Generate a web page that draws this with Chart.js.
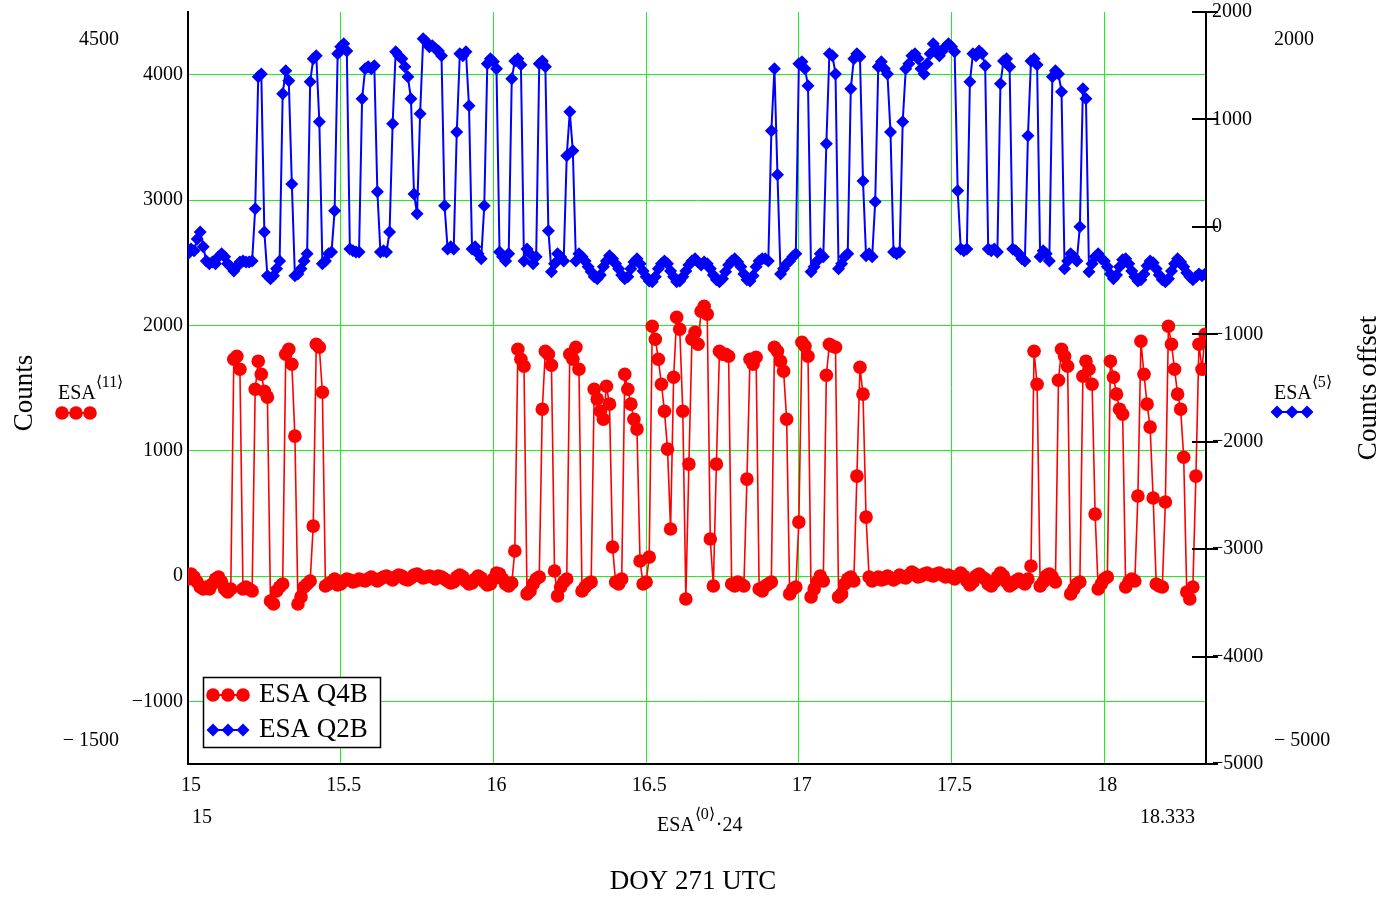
<!DOCTYPE html>
<html>
<head>
<meta charset="utf-8">
<title>ESA Q4B / Q2B - DOY 271</title>
<script src="https://cdn.jsdelivr.net/npm/chart.js@4.4.0/dist/chart.umd.min.js"></script>
<style>
  html, body { margin: 0; padding: 0; background: #fff; }
  canvas { display: block; }
</style>
</head>
<body>
<canvas id="esaChart" width="1387" height="898"></canvas>
<script>
// sample times, hours UTC (ESA<0> * 24)
const hours = [
  15.00, 15.01, 15.02, 15.03, 15.04, 15.05, 15.06, 15.07, 15.08, 15.09,
  15.10, 15.11, 15.12, 15.13, 15.14, 15.15, 15.16, 15.17, 15.18, 15.19,
  15.20, 15.21, 15.22, 15.23, 15.24, 15.25, 15.26, 15.27, 15.28, 15.29,
  15.30, 15.31, 15.32, 15.33, 15.34, 15.35, 15.36, 15.37, 15.38, 15.39,
  15.40, 15.41, 15.42, 15.43, 15.44, 15.45, 15.46, 15.47, 15.48, 15.49,
  15.50, 15.51, 15.52, 15.53, 15.54, 15.55, 15.56, 15.57, 15.58, 15.59,
  15.60, 15.61, 15.62, 15.63, 15.64, 15.65, 15.66, 15.67, 15.68, 15.69,
  15.70, 15.71, 15.72, 15.73, 15.74, 15.75, 15.76, 15.77, 15.78, 15.79,
  15.80, 15.81, 15.82, 15.83, 15.84, 15.85, 15.86, 15.87, 15.88, 15.89,
  15.90, 15.91, 15.92, 15.93, 15.94, 15.95, 15.96, 15.97, 15.98, 15.99,
  16.00, 16.01, 16.02, 16.03, 16.04, 16.05, 16.06, 16.07, 16.08, 16.09,
  16.10, 16.11, 16.12, 16.13, 16.14, 16.15, 16.16, 16.17, 16.18, 16.19,
  16.20, 16.21, 16.22, 16.23, 16.24, 16.25, 16.26, 16.27, 16.28, 16.29,
  16.30, 16.31, 16.32, 16.33, 16.34, 16.35, 16.36, 16.37, 16.38, 16.39,
  16.40, 16.41, 16.42, 16.43, 16.44, 16.45, 16.46, 16.47, 16.48, 16.49,
  16.50, 16.51, 16.52, 16.53, 16.54, 16.55, 16.56, 16.57, 16.58, 16.59,
  16.60, 16.61, 16.62, 16.63, 16.64, 16.65, 16.66, 16.67, 16.68, 16.69,
  16.70, 16.71, 16.72, 16.73, 16.74, 16.75, 16.76, 16.77, 16.78, 16.79,
  16.80, 16.81, 16.82, 16.83, 16.84, 16.85, 16.86, 16.87, 16.88, 16.89,
  16.90, 16.91, 16.92, 16.93, 16.94, 16.95, 16.96, 16.97, 16.98, 16.99,
  17.00, 17.01, 17.02, 17.03, 17.04, 17.05, 17.06, 17.07, 17.08, 17.09,
  17.10, 17.11, 17.12, 17.13, 17.14, 17.15, 17.16, 17.17, 17.18, 17.19,
  17.20, 17.21, 17.22, 17.23, 17.24, 17.25, 17.26, 17.27, 17.28, 17.29,
  17.30, 17.31, 17.32, 17.33, 17.34, 17.35, 17.36, 17.37, 17.38, 17.39,
  17.40, 17.41, 17.42, 17.43, 17.44, 17.45, 17.46, 17.47, 17.48, 17.49,
  17.50, 17.51, 17.52, 17.53, 17.54, 17.55, 17.56, 17.57, 17.58, 17.59,
  17.60, 17.61, 17.62, 17.63, 17.64, 17.65, 17.66, 17.67, 17.68, 17.69,
  17.70, 17.71, 17.72, 17.73, 17.74, 17.75, 17.76, 17.77, 17.78, 17.79,
  17.80, 17.81, 17.82, 17.83, 17.84, 17.85, 17.86, 17.87, 17.88, 17.89,
  17.90, 17.91, 17.92, 17.93, 17.94, 17.95, 17.96, 17.97, 17.98, 17.99,
  18.00, 18.01, 18.02, 18.03, 18.04, 18.05, 18.06, 18.07, 18.08, 18.09,
  18.10, 18.11, 18.12, 18.13, 18.14, 18.15, 18.16, 18.17, 18.18, 18.19,
  18.20, 18.21, 18.22, 18.23, 18.24, 18.25, 18.26, 18.27, 18.28, 18.29,
  18.30, 18.31, 18.32, 18.33
];

// ESA column 11 (Q4B), counts - left axis
const q4bCounts = [
  -24, 16, -8, -48, -88, -104, -88, -104, -64, -24,
  -8, -48, -104, -128, -104, 1729, 1753, 1650, -104, -88,
  -104, -120, 1490, 1714, 1610, 1474, 1427, -199, -223, -120,
  -88, -64, 1769, 1809, 1690, 1116, -223, -167, -88, -64,
  -40, 398, 1849, 1825, 1466, -80, -64, -48, -24, -72,
  -64, -40, -24, -32, -48, -40, -24, -32, -40, -24,
  -8, -24, -40, -24, -8, 0, -16, -32, -8, 8,
  0, -24, -32, -16, 8, 16, 0, -16, -8, 0,
  -8, -24, 0, -8, -24, -40, -56, -48, -8, 8,
  -8, -40, -64, -56, -24, 0, -16, -48, -72, -64,
  -24, 24, 16, -24, -64, -80, -56, 199, 1809, 1729,
  1674, -143, -120, -64, -24, -8, 1331, 1793, 1769, 1682,
  40, -159, -88, -48, -24, 1769, 1729, 1825, 1650, -120,
  -88, -64, -48, 1490, 1411, 1315, 1251, 1514, 1371, 231,
  -48, -64, -24, 1610, 1490, 1371, 1251, 1172, 120, -64,
  -48, 151, 1993, 1889, 1729, 1530, 1315, 1012, 375, 1586,
  2064, 1969, 1315, -183, 893, 1889, 1945, 1849, 2112, 2152,
  2088, 295, -80, 893, 1793, 1769, 1769, 1753, -64, -80,
  -48, -64, -80, 773, 1729, 1690, 1745, -104, -120, -80,
  -64, -48, 1825, 1793, 1714, 1634, 1251, -143, -104, -88,
  430, 1865, 1833, 1753, -167, -104, -48, 0, -40, 1602,
  1849, 1833, 1825, -167, -143, -64, -24, -8, -40, 797,
  1666, 1451, 470, -8, -40, -24, -8, -32, -24, 0,
  -16, -32, -16, 8, -8, -16, 8, 32, 16, -8,
  0, 16, 24, 8, 0, 16, 24, 8, -8, 8,
  -8, -24, 0, 24, 0, -40, -72, -48, 0, 16,
  -8, -24, -64, -80, -48, -8, 24, 0, -48, -80,
  -64, -40, -24, -48, -64, -24, 80, 1793, 1530, -80,
  -48, 0, 16, -8, -48, 1562, 1809, 1753, 1674, -143,
  -104, -64, -48, 1594, 1714, 1650, 1530, 494, -104, -64,
  -24, -8, 1714, 1586, 1451, 1331, 1291, -88, -48, -24,
  -40, 638, 1873, 1610, 1371, 1188, 622, -64, -80, -88,
  590, 1993, 1849, 1650, 1451, 1331, 948, -128, -183, -88,
  797, 1849, 1650, 1929
];

// ESA column 5 (Q2B), counts offset - right axis
const q2bOffset = [
  -251, -205, -223, -112, -47, -186, -317, -344, -326, -344,
  -279, -251, -279, -344, -372, -410, -372, -326, -317, -326,
  -326, -317, 168, 1397, 1424, -47, -456, -484, -456, -391,
  -317, 1238, 1452, 1359, 400, -456, -438, -391, -317, -251,
  1350, 1564, 1592, 978, -344, -317, -251, -233, 149, 1611,
  1676, 1704, 1638, -205, -223, -233, -233, 1192, 1471, 1490,
  1471, 1499, 326, -233, -223, -233, -47, 959, 1629, 1592,
  1564, 1490, 1397, 1192, 307, 121, 1052, 1750, 1722, 1676,
  1685, 1657, 1638, 1592, 196, -205, -186, -205, 884, 1611,
  1592, 1629, 1127, -205, -186, -251, -298, 196, 1518, 1564,
  1536, 1471, -233, -279, -317, -251, 1378, 1545, 1564, 1508,
  -317, -205, -251, -344, -279, 1518, 1545, 1490, -37, -419,
  -344, -251, -279, -317, 661, 1071, 708, -317, -251, -279,
  -317, -372, -419, -465, -484, -447, -372, -317, -270, -298,
  -344, -391, -447, -484, -465, -391, -326, -298, -344, -410,
  -465, -503, -512, -465, -391, -344, -317, -344, -410, -465,
  -512, -503, -465, -410, -354, -317, -298, -326, -354, -326,
  -344, -391, -447, -493, -512, -484, -419, -354, -317, -298,
  -326, -372, -438, -493, -503, -456, -372, -317, -298, -298,
  -317, 894, 1471, 484, -438, -391, -344, -317, -279, -251,
  1518, 1536, 1471, 1313, -419, -372, -317, -251, -279, 773,
  1611, 1592, 1424, -391, -344, -279, -251, 1285, 1564, 1611,
  1583, 428, -270, -251, -279, 233, 1490, 1536, 1471, 1424,
  884, -233, -251, -233, 978, 1471, 1518, 1592, 1611, 1564,
  1471, 1424, 1518, 1611, 1704, 1657, 1592, 1638, 1676, 1704,
  1676, 1629, 335, -205, -223, -205, 1350, 1611, 1592, 1638,
  1611, 1499, -205, -223, -205, -233, 1331, 1545, 1564, 1490,
  -205, -223, -251, -298, -317, 847, 1545, 1564, 1508, -279,
  -223, -251, -317, 1397, 1452, 1424, 1257, -391, -317, -251,
  -279, -317, 0, 1285, 1192, -419, -344, -279, -251, -298,
  -317, -372, -438, -484, -447, -372, -307, -298, -344, -410,
  -465, -503, -493, -438, -363, -317, -335, -391, -447, -493,
  -512, -484, -410, -344, -298, -326, -372, -428, -465, -493,
  -465, -438, -456, -438
];

const hourTicks = [15, 15.5, 16, 16.5, 17, 17.5, 18];
const countTicks = [-1000, 0, 1000, 2000, 3000, 4000];
const offsetTicks = [-5000, -4000, -3000, -2000, -1000, 0, 1000, 2000];

const SERIF = '"Liberation Serif", "Times New Roman", serif';
const GRID_GREEN = 'rgb(30, 238, 30)';
const RED = '#ff0000';
const BLUE = '#0000ff';

function minusLabel(v) {
  return v < 0 ? '\u2212' + Math.abs(v) : String(v);
}

function text(ctx, str, x, y, size, align) {
  ctx.font = size + 'px ' + SERIF;
  ctx.textAlign = align || 'left';
  ctx.textBaseline = 'middle';
  ctx.fillText(str, x, y);
}

// "ESA" with a bracketed column index as superscript
function esaName(ctx, x, y, col, tail) {
  ctx.font = '20px ' + SERIF;
  ctx.textAlign = 'left';
  ctx.textBaseline = 'middle';
  ctx.fillText('ESA', x, y);
  const w = ctx.measureText('ESA').width;
  ctx.font = '16px ' + SERIF;
  ctx.fillText('\u27E8' + col + '\u27E9', x + w, y - 11);
  if (tail) {
    const w2 = ctx.measureText('\u27E8' + col + '\u27E9').width;
    ctx.font = '20px ' + SERIF;
    ctx.fillText(tail, x + w + w2 + 1, y);
  }
}

// three markers joined by a line, the way the trace legend shows them
function markerRow(ctx, ds, x0, y, gap) {
  ctx.save();
  ctx.strokeStyle = ds.borderColor;
  ctx.fillStyle = ds.backgroundColor;
  ctx.lineWidth = 2;
  ctx.beginPath();
  ctx.moveTo(x0 - 4, y);
  ctx.lineTo(x0 + 2 * gap + 4, y);
  ctx.stroke();
  for (let k = 0; k < 3; k++) {
    Chart.helpers.drawPoint(ctx, {
      pointStyle: ds.pointStyle,
      radius: ds.pointRadius,
      borderWidth: 0,
      rotation: 0
    }, x0 + k * gap, y);
  }
  ctx.restore();
}

// y axes: no extra room above/below for the end labels
function squeezeY(width) {
  return (scale) => {
    scale.width = width;
    scale.paddingTop = 0;
    scale.paddingBottom = 0;
  };
}

const decorations = {
  id: 'decorations',
  afterDraw(chart) {
    const ctx = chart.ctx;
    const area = chart.chartArea;
    const yRight = chart.scales.yRight;
    const [q4b, q2b] = chart.data.datasets;
    ctx.save();

    // tick marks crossing the right axis
    ctx.strokeStyle = '#000';
    ctx.lineWidth = 2;
    offsetTicks.forEach((v) => {
      const y = Math.round(yRight.getPixelForValue(v));
      ctx.beginPath();
      ctx.moveTo(area.right - 14, y);
      ctx.lineTo(area.right + 12, y);
      ctx.stroke();
    });

    ctx.fillStyle = '#000';
    // axis limits
    text(ctx, '4500', 119, 40, 20, 'right');
    text(ctx, '\u2212 1500', 119, 741, 20, 'right');
    text(ctx, '2000', 1274, 40, 20, 'left');
    text(ctx, '\u2212 5000', 1274, 741, 20, 'left');
    text(ctx, '15', 192, 818, 20, 'left');
    text(ctx, '18.333', 1195, 818, 20, 'right');

    // axis titles
    esaName(ctx, 657, 826, 0, '\u00B724');
    text(ctx, 'DOY 271 UTC', 693, 882, 27, 'center');

    ctx.save();
    ctx.translate(25, 393);
    ctx.rotate(-Math.PI / 2);
    text(ctx, 'Counts', 0, 0, 27, 'center');
    ctx.restore();

    ctx.save();
    ctx.translate(1369, 388);
    ctx.rotate(-Math.PI / 2);
    text(ctx, 'Counts offset', 0, 0, 27, 'center');
    ctx.restore();

    // trace names beside each axis
    esaName(ctx, 58, 394, 11);
    markerRow(ctx, q4b, 62, 413, 14);
    esaName(ctx, 1274, 394, 5);
    markerRow(ctx, q2b, 1277, 412, 15);

    // legend box
    ctx.fillStyle = '#fff';
    ctx.fillRect(203, 677, 177, 70);
    ctx.strokeStyle = '#000';
    ctx.lineWidth = 1.5;
    ctx.strokeRect(203.5, 677.5, 177, 70);
    [q4b, q2b].forEach((ds, k) => {
      const y = 695 + k * 35;
      markerRow(ctx, ds, 213, y, 15);
      ctx.fillStyle = '#000';
      text(ctx, ds.label, 259, y, 27, 'left');
    });

    ctx.restore();
  }
};

new Chart(document.getElementById('esaChart'), {
  type: 'line',
  data: {
    datasets: [
      {
        label: 'ESA Q4B',
        data: hours.map((h, i) => ({ x: h, y: q4bCounts[i] })),
        yAxisID: 'yLeft',
        borderColor: RED,
        backgroundColor: RED,
        borderWidth: 1.6,
        pointStyle: 'circle',
        pointRadius: 6.8,
        pointBorderWidth: 0,
        pointBackgroundColor: RED,
        tension: 0
      },
      {
        label: 'ESA Q2B',
        data: hours.map((h, i) => ({ x: h, y: q2bOffset[i] })),
        yAxisID: 'yRight',
        borderColor: BLUE,
        backgroundColor: BLUE,
        borderWidth: 2,
        pointStyle: 'rectRot',
        pointRadius: 6.5,
        pointBorderWidth: 0,
        pointBackgroundColor: BLUE,
        tension: 0
      }
    ]
  },
  options: {
    responsive: false,
    animation: false,
    devicePixelRatio: 1,
    layout: { padding: { top: 12, left: 0, right: 0, bottom: 0 } },
    plugins: {
      legend: { display: false },
      tooltip: { enabled: false }
    },
    scales: {
      x: {
        type: 'linear',
        min: 15,
        max: 18.333,
        afterBuildTicks: (scale) => { scale.ticks = hourTicks.map((v) => ({ value: v })); },
        afterFit: (scale) => {
          scale.height = 134;
          scale.paddingLeft = 0;
          scale.paddingRight = 0;
        },
        grid: { color: GRID_GREEN, lineWidth: 1, drawTicks: false },
        border: { color: '#000', width: 2 },
        ticks: {
          color: '#000',
          font: { family: SERIF, size: 20 },
          padding: 10,
          labelOffset: 3,
          maxRotation: 0,
          callback: (v) => String(v)
        }
      },
      yLeft: {
        type: 'linear',
        position: 'left',
        min: -1500,
        max: 4500,
        afterBuildTicks: (scale) => { scale.ticks = countTicks.map((v) => ({ value: v })); },
        afterFit: squeezeY(188),
        grid: { color: GRID_GREEN, lineWidth: 1, drawTicks: false },
        border: { color: '#000', width: 2 },
        ticks: {
          color: '#000',
          font: { family: SERIF, size: 20 },
          padding: 5,
          callback: (v) => minusLabel(v)
        }
      },
      yRight: {
        type: 'linear',
        position: 'right',
        min: -5000,
        max: 2000,
        afterBuildTicks: (scale) => { scale.ticks = offsetTicks.map((v) => ({ value: v })); },
        afterFit: squeezeY(181),
        grid: { drawOnChartArea: false, drawTicks: false },
        border: { color: '#000', width: 2 },
        ticks: {
          color: '#000',
          font: { family: SERIF, size: 20 },
          padding: 6,
          callback: (v) => minusLabel(v)
        }
      }
    }
  },
  plugins: [decorations]
});
</script>
</body>
</html>
